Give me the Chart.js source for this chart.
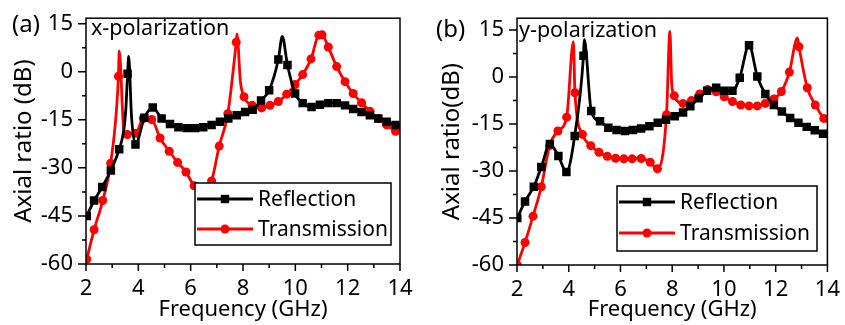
<!DOCTYPE html>
<html>
<head>
<meta charset="utf-8">
<script src="https://cdn.jsdelivr.net/npm/chart.js@4/dist/chart.umd.min.js"></script>
<style>
  html, body { margin: 0; padding: 0; background: #fff; }
  #wrap { position: relative; width: 845px; height: 325px; }
  canvas { position: absolute; top: 0; }
</style>
</head>
<body>
<div id="wrap">
  <canvas id="chartA" width="422" height="325" style="left:0;width:422px;height:325px"></canvas>
  <canvas id="chartB" width="423" height="325" style="left:422px;width:423px;height:325px"></canvas>
</div>
<script>
// (a) x-polarization: marker points, plus a few line-only points at the sharp peaks
const reflA_f = [2.03, 2.31, 2.62, 2.95, 3.27, 3.59, 3.89, 4.23, 4.55, 4.89, 5.21, 5.53, 5.85, 6.17, 6.48, 6.8, 7.12, 7.44, 7.76, 8.08, 8.37, 8.69, 9.0, 9.35, 9.7, 9.99, 10.28, 10.62, 10.94, 11.26, 11.58, 11.9, 12.21, 12.53, 12.85, 13.17, 13.49, 13.83];
const reflA_db = [-45, -40.2, -36, -30.8, -24.2, -0.6, -22.7, -14.4, -11.2, -14.6, -16.3, -17.3, -17.6, -17.6, -17.3, -16.6, -15.6, -14.6, -13.6, -12.6, -11.9, -9.0, -5.8, 3.8, 2.1, -6.8, -9.8, -11.0, -10.3, -9.8, -9.8, -10.5, -11.6, -12.6, -13.6, -14.6, -15.6, -16.6];
const reflA_peakF = [3.45, 3.52, 3.63, 3.74, 9.5, 14.0];
const reflA_peakDb = [-18, -12, 4.8, -14, 11.0, -16.8];

const tranA_f = [2.03, 2.31, 2.64, 2.94, 3.24, 3.58, 3.91, 4.19, 4.51, 4.83, 5.18, 5.5, 5.82, 6.13, 6.48, 6.8, 7.09, 7.42, 7.74, 8.04, 8.35, 8.71, 9.03, 9.35, 9.67, 9.99, 10.28, 10.6, 10.9, 11.02, 11.26, 11.58, 11.9, 12.21, 12.53, 12.85, 13.17, 13.49, 13.83];
const tranA_db = [-58.5, -49.3, -40.2, -28.6, -1.4, -19.6, -19.2, -14.6, -14.9, -20.7, -24.8, -28.3, -31.3, -35.6, -38.5, -34.1, -23.2, -13.1, 9.2, -7.8, -10.5, -11.3, -10.5, -9.3, -7.0, -4.0, -0.9, 4.0, 11.4, 11.5, 7.7, 1.6, -3.1, -6.8, -9.7, -12.3, -14.6, -16.6, -18.6];
const tranA_peakF = [3.27, 3.45, 7.77, 7.9, 14.0];
const tranA_peakDb = [6.5, -18.5, 11.8, -3, -19];

// (b) y-polarization
const reflB_f = [2.01, 2.31, 2.65, 2.94, 3.27, 3.6, 3.91, 4.23, 4.57, 4.87, 5.21, 5.53, 5.85, 6.17, 6.48, 6.8, 7.12, 7.44, 7.76, 8.1, 8.42, 8.7, 9.02, 9.35, 9.7, 10.01, 10.33, 10.61, 10.97, 11.29, 11.6, 11.93, 12.24, 12.56, 12.88, 13.2, 13.51, 13.83];
const reflB_db = [-45, -39.7, -35, -28.7, -21.4, -25.2, -30.3, -18.8, 6.8, -10.8, -14.1, -16.2, -16.9, -17.2, -16.9, -16.4, -15.7, -14.6, -13.6, -12.5, -11.3, -9.3, -6.8, -4.4, -3.4, -4.4, -4.4, -0.2, 10.2, 0.2, -5.4, -8.9, -11, -13.1, -14.6, -15.9, -17, -18.1];
const reflB_peakF = [4.6, 14.0];
const reflB_peakDb = [12.0, -18.3];

const tranB_f = [2.01, 2.31, 2.62, 2.94, 3.26, 3.58, 3.92, 4.24, 4.53, 4.85, 5.17, 5.49, 5.81, 6.13, 6.45, 6.8, 7.15, 7.43, 7.78, 8.08, 8.42, 8.74, 9.06, 9.37, 9.7, 10.01, 10.33, 10.65, 10.97, 11.29, 11.6, 11.93, 12.22, 12.53, 12.9, 13.22, 13.53, 13.86];
const tranB_db = [-60, -52.8, -44.4, -35, -21.9, -17.2, -12.8, -5, -18.3, -21.9, -24, -25.3, -25.9, -26.1, -26.1, -26.0, -27.2, -29.3, -12, -6, -8.4, -7.5, -5.4, -4, -4.7, -6.3, -7.8, -8.9, -9.2, -9.2, -8.4, -7.0, -4.6, 1.6, 9.7, -3.4, -8.9, -13.2];
const tranB_peakF = [4.18, 7.91, 7.98, 12.84, 14.0];
const tranB_peakDb = [11.3, 14.6, -2, 12.5, -14.3];

const xTicks = [2, 4, 6, 8, 10, 12, 14];
const yTicks = [-60, -45, -30, -15, 0, 15];

const FONT = '"Noto Sans", "Open Sans", sans-serif';
Chart.defaults.font.family = FONT;
Chart.defaults.color = "#000";

// merge marker points and line-only points, remember which ones get a marker
function series(mf, mdb, pf, pdb) {
    const pts = mf.map((f, i) => ({ x: f, y: mdb[i], m: true }))
        .concat(pf.map((f, i) => ({ x: f, y: pdb[i], m: false })));
    pts.sort((a, b) => a.x - b.x);
    return pts;
}

function drawMark(ctx, style, x, y, color) {
    ctx.fillStyle = color;
    ctx.beginPath();
    if (style === "rect") {
        ctx.rect(x - 4.2, y - 4.2, 8.4, 8.4);
    } else {
        ctx.arc(x, y, 4.5, 0, Math.PI * 2);
    }
    ctx.fill();
}

const decor = {
    id: "decor",
    afterDatasetsDraw(chart, args, o) {
        const ctx = chart.ctx;
        const [bx, by, bw, bh] = o.box;
        ctx.save();
        ctx.fillStyle = "#fff";
        ctx.fillRect(bx, by, bw, bh);
        ctx.lineWidth = 1.5;
        ctx.strokeStyle = "#000";
        ctx.strokeRect(bx, by, bw, bh);
        ctx.font = "21px " + FONT;
        ctx.textBaseline = "middle";
        chart.data.datasets.forEach((ds, i) => {
            const y = o.rows[i];
            ctx.strokeStyle = ds.borderColor;
            ctx.lineWidth = 2.8;
            ctx.beginPath();
            ctx.moveTo(bx + 2, y);
            ctx.lineTo(bx + 58, y);
            ctx.stroke();
            drawMark(ctx, ds.pointStyle, bx + 30, y, ds.borderColor);
            ctx.fillStyle = "#000";
            ctx.fillText(ds.label, bx + 63, y + 1);
        });
        ctx.restore();
    },
    afterDraw(chart, args, o) {
        const ctx = chart.ctx;
        const { left, right, top, bottom } = chart.chartArea;
        const xs = chart.scales.x, ys = chart.scales.y;
        ctx.save();
        ctx.strokeStyle = "#000";
        ctx.lineWidth = 1.5;
        ctx.strokeRect(left, top, right - left, bottom - top);
        ctx.beginPath();
        for (let f = 2; f <= 14; f += 1) {
            const px = xs.getPixelForValue(f);
            ctx.moveTo(px, bottom);
            ctx.lineTo(px, bottom + (f % 2 === 0 ? 7 : 4));
        }
        for (let v = -60; v <= 15; v += 7.5) {
            const py = ys.getPixelForValue(v);
            ctx.moveTo(left, py);
            ctx.lineTo(left - (v % 15 === 0 ? 8 : 4), py);
        }
        ctx.stroke();
        ctx.fillStyle = "#000";
        ctx.textBaseline = "alphabetic";
        ctx.font = "24px " + FONT;
        ctx.fillText(o.tag, o.tagPos[0], o.tagPos[1]);
        ctx.font = "21.5px " + FONT;
        ctx.fillText(o.note, o.notePos[0], o.notePos[1]);
        ctx.restore();
    }
};

function makeChart(id, refl, tran, p) {
    const mk = (pts, r) => (c) => (pts[c.dataIndex] && pts[c.dataIndex].m ? r : 0);
    return new Chart(document.getElementById(id), {
        type: "line",
        data: {
            datasets: [
                {
                    label: "Reflection",
                    data: refl,
                    borderColor: "#000000",
                    backgroundColor: "#000000",
                    borderWidth: 2.8,
                    pointStyle: "rect",
                    pointRadius: mk(refl, 6),
                    pointBorderWidth: 0,
                    pointBackgroundColor: "#000000",
                    cubicInterpolationMode: "monotone"
                },
                {
                    label: "Transmission",
                    data: tran,
                    borderColor: "#ff0000",
                    backgroundColor: "#ff0000",
                    borderWidth: 2.8,
                    pointStyle: "circle",
                    pointRadius: mk(tran, 4.5),
                    pointBorderWidth: 0,
                    pointBackgroundColor: "#ff0000",
                    cubicInterpolationMode: "monotone"
                }
            ]
        },
        options: {
            responsive: false,
            animation: false,
            layout: { padding: { left: 0, right: p.padRight, top: 13, bottom: 0 } },
            plugins: {
                legend: { display: false },
                tooltip: { enabled: false },
                decor: p.decor
            },
            scales: {
                x: {
                    type: "linear",
                    min: 2,
                    max: 14,
                    afterBuildTicks: (s) => { s.ticks = xTicks.map((v) => ({ value: v })); },
                    afterFit: (s) => { s.height = p.xHeight; },
                    grid: { display: false, drawTicks: true, tickLength: 7 },
                    border: { display: false },
                    ticks: { font: { size: 22 }, padding: 5, maxRotation: 0 },
                    title: { display: true, text: "Frequency (GHz)", font: { size: 22 }, padding: { top: 0, bottom: 2 } }
                },
                y: {
                    min: -60,
                    max: p.yMax,
                    afterBuildTicks: (s) => { s.ticks = yTicks.map((v) => ({ value: v })); },
                    afterFit: (s) => { s.width = p.yWidth; },
                    grid: { display: false, drawTicks: true, tickLength: 8 },
                    border: { display: false },
                    ticks: { font: { size: 22 }, padding: 5 },
                    title: { display: true, text: p.yTitle, font: { size: 24 }, padding: { top: p.yTitlePad, bottom: 0 } }
                }
            }
        },
        plugins: [decor]
    });
}

makeChart("chartA",
    series(reflA_f, reflA_db, reflA_peakF, reflA_peakDb),
    series(tranA_f, tranA_db, tranA_peakF, tranA_peakDb),
    {
        padRight: 22, xHeight: 61, yWidth: 86, yMax: 16.7, yTitle: "Axial ratio (dB)", yTitlePad: 10,
        decor: { box: [195, 183, 196, 62], rows: [199, 229], tag: "(a)", tagPos: [12, 32], note: "x-polarization", notePos: [91, 35] }
    });

makeChart("chartB",
    series(reflB_f, reflB_db, reflB_peakF, reflB_peakDb),
    series(tranB_f, tranB_db, tranB_peakF, tranB_peakDb),
    {
        padRight: 14, xHeight: 60, yWidth: 95, yMax: 18.8, yTitle: "Axial ratio(dB)", yTitlePad: 16,
        decor: { box: [195, 186, 200, 65], rows: [202, 233], tag: "(b)", tagPos: [14, 37], note: "y-polarization", notePos: [97, 37] }
    });
</script>
</body>
</html>
